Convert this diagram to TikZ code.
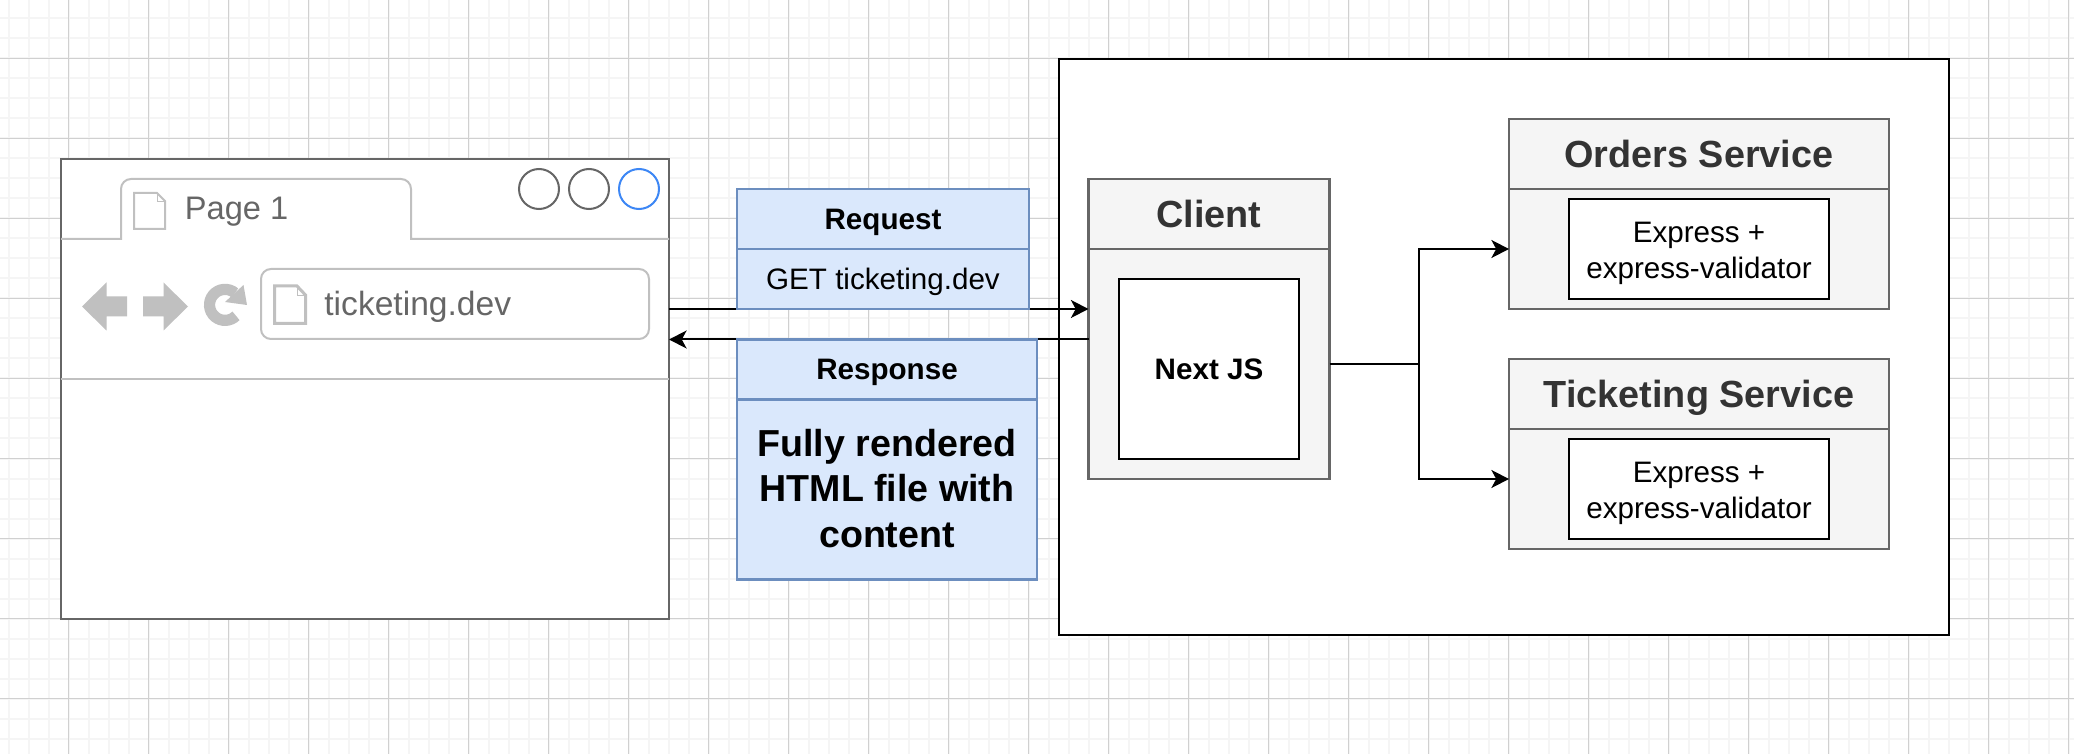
\documentclass[tikz,border=0pt]{standalone}
\usepackage{fontspec}
\setmainfont{Liberation Sans}
\usetikzlibrary{positioning,arrows.meta}

\definecolor{gridmajor}{HTML}{D0D0D0}
\definecolor{gridminor}{HTML}{F5F5F5}
\definecolor{lanefill}{HTML}{F5F5F5}
\definecolor{laneline}{HTML}{666666}
\definecolor{lanetext}{HTML}{333333}
\definecolor{msgfill}{HTML}{DAE8FC}
\definecolor{msgline}{HTML}{6C8EBF}
\definecolor{chrome}{HTML}{C0C0C0}
\definecolor{winblue}{HTML}{3D87F5}

\tikzset{
  lanebox/.style={draw=laneline,fill=lanefill,line width=1.1pt,outer sep=0pt,inner sep=0pt},
  lanehead/.style={lanebox,text=lanetext,font=\fontsize{18.9}{22}\selectfont\bfseries,text height=17.1pt,text depth=4pt},
  msgbox/.style={draw=msgline,fill=msgfill,line width=1.1pt,outer sep=0pt,inner sep=0pt},
  msghead/.style={msgbox,font=\fontsize{14.8}{18}\selectfont\bfseries,text height=13.4pt,text depth=3.1pt},
  stackbox/.style={draw=black,fill=white,line width=1.25pt,outer sep=0pt,inner sep=0pt,align=center},
  flow/.style={line width=1pt,-{Stealth[length=8.8pt,width=9pt,inset=2.4pt]}},
  chrometext/.style={text=laneline,inner sep=0pt,anchor=base west},
  winbutton/.style={circle,draw=laneline,line width=1pt,minimum size=20pt,inner sep=0pt,outer sep=0pt},
  navarrow/.style={fill=chrome,draw=none}
}

\begin{document}
\begin{tikzpicture}[x=0.5pt,y=-0.5pt]
\useasboundingbox (0,0) rectangle (2074,754);

% paper grid
\foreach \i in {0,...,103} \fill[gridminor] ({7.5+20*\i},0) rectangle ({9.5+20*\i},754);
\foreach \i in {0,...,37} \fill[gridminor] (0,{17.5+20*\i}) rectangle (2074,{19.5+20*\i});
\foreach \i in {0,...,25} \draw[gridmajor,line width=.75pt] ({68.5+80*\i},0) -- ({68.5+80*\i},754);
\foreach \i in {0,...,8} \draw[gridmajor,line width=.75pt] (0,{58.5+80*\i}) -- (2074,{58.5+80*\i});

% cluster
\node[draw=black,fill=white,line width=1.25pt,outer sep=0pt,inner sep=0pt,minimum width=445pt,minimum height=288pt,anchor=north west] (cluster) at (1059,59) {};

% browser window
\node[draw=laneline,fill=white,line width=1.25pt,outer sep=0pt,inner sep=0pt,minimum width=304pt,minimum height=230pt,anchor=north west] (browser) at (61,159) {};
\draw[chrome,line width=1pt] (browser.west |- 0,239) -- (121,239) -- (121,189) arc (180:270:10) -- (401,179) arc (270:360:10) -- (411,239) -- (browser.east |- 0,239);
\draw[chrome,line width=1pt] (browser.west |- 0,379) -- (browser.east |- 0,379);
\node[winbutton] (btnmin) at (539,189) {};
\node[winbutton] (btnmax) at (589,189) {};
\node[winbutton,draw=winblue] (btnclose) at (639,189) {};

\draw[chrome,line width=1pt] (134,193) -- (157,193) -- (165,201) -- (165,229) -- (134,229) -- cycle;
\draw[chrome,line width=.4pt] (157,193) -- (157,201) -- (165,201);
\node[chrometext,font=\fontsize{16.3}{20}\selectfont] (tabtitle) at (184.5,219.5) {Page 1};

\fill[navarrow] (82,306.5) -- (106.5,282.5) -- (106.5,296.5) -- (127,296.5) -- (127,316.5) -- (106.5,316.5) -- (106.5,330.5) -- cycle;
\fill[navarrow] (188,306.5) -- (163.5,282.5) -- (163.5,296.5) -- (143,296.5) -- (143,316.5) -- (163.5,316.5) -- (163.5,330.5) -- cycle;
\draw[chrome,line width=5.6pt] (235,293) arc (-50:-315:15.5);
\fill[chrome] (243.5,285) -- (247,305) -- (225,302) -- cycle;

\node[draw=chrome,fill=white,rounded corners=5pt,line width=1pt,outer sep=0pt,inner sep=0pt,minimum width=194pt,minimum height=35pt,anchor=north west] (urlbar) at (261,269) {};
\draw[chrome,line width=1.5pt] (274.5,286) -- (297,286) -- (305.5,295) -- (305.5,323.5) -- (274.5,323.5) -- cycle;
\draw[chrome,line width=.4pt] (297,287) -- (297,295) -- (305,295);
\node[chrometext,font=\fontsize{16.8}{20}\selectfont] (urltext) at (324,316) {ticketing.dev};

% client
\node[lanehead,minimum width=120.5pt,minimum height=35pt,anchor=north west] (clienthead) at (1088.5,179) {Client};
\node[lanebox,minimum width=120.5pt,minimum height=115pt,below=0pt of clienthead] (clientbody) {};
\node[stackbox,minimum width=90pt,minimum height=90pt,below=15pt of clienthead,font=\fontsize{14.8}{18}\selectfont\bfseries] (nextjs) {Next JS};

% orders service
\node[lanehead,minimum width=190pt,minimum height=35pt,anchor=north west] (ordershead) at (1509,119) {Orders Service};
\node[lanebox,minimum width=190pt,minimum height=60pt,below=0pt of ordershead] (ordersbody) {};
\node[stackbox,minimum width=130pt,minimum height=50pt,below=5pt of ordershead,font=\fontsize{14.8}{18}\selectfont] (ordersstack) {\rule{0pt}{14.7pt}Express +\\express-validator};

% ticketing service
\node[lanehead,minimum width=190pt,minimum height=35pt,anchor=north west] (ticketinghead) at (1509,359) {Ticketing Service};
\node[lanebox,minimum width=190pt,minimum height=60pt,below=0pt of ticketinghead] (ticketingbody) {};
\node[stackbox,minimum width=130pt,minimum height=50pt,below=5pt of ticketinghead,font=\fontsize{14.8}{18}\selectfont] (ticketingstack) {\rule{0pt}{14.7pt}Express +\\express-validator};

% connectors, under the message boxes
\coordinate (reqleft) at (browser.east |- 0,309);
\coordinate (reqright) at (clientbody.west |- 0,309);
\coordinate (respright) at (clientbody.west |- 0,339.5);
\coordinate (respleft) at (browser.east |- 0,339.5);
\coordinate (branch) at (1418.5,364);
\coordinate (ticketingin) at (ticketingbody.west |- 0,479);
\draw[flow] (reqleft) -- (reqright);
\draw[flow] (respright) -- (respleft);
\draw[line width=1pt] (clientbody.east |- branch) -- (branch);
\draw[flow] (branch) |- (ordersbody.west);
\draw[flow] (branch) |- (ticketingin);

% request
\node[msghead,minimum width=146pt,minimum height=30pt,anchor=north west] (reqhead) at (737,189) {Request};
\node[msgbox,minimum width=146pt,minimum height=30pt,below=0pt of reqhead,font=\fontsize{14.8}{18}\selectfont,text height=13.4pt,text depth=3.1pt] (reqbody) {GET ticketing.dev};

% response
\node[msghead,minimum width=150pt,minimum height=30pt,anchor=north west] (resphead) at (737,339.5) {Response};
\node[msgbox,minimum width=150pt,minimum height=90pt,below=0pt of resphead,align=center,font=\fontsize{18.8}{22.8}\selectfont\bfseries] (respbody) {Fully rendered\\HTML file with\\content\rule[-1.3pt]{0pt}{0pt}};
\end{tikzpicture}
\end{document}
